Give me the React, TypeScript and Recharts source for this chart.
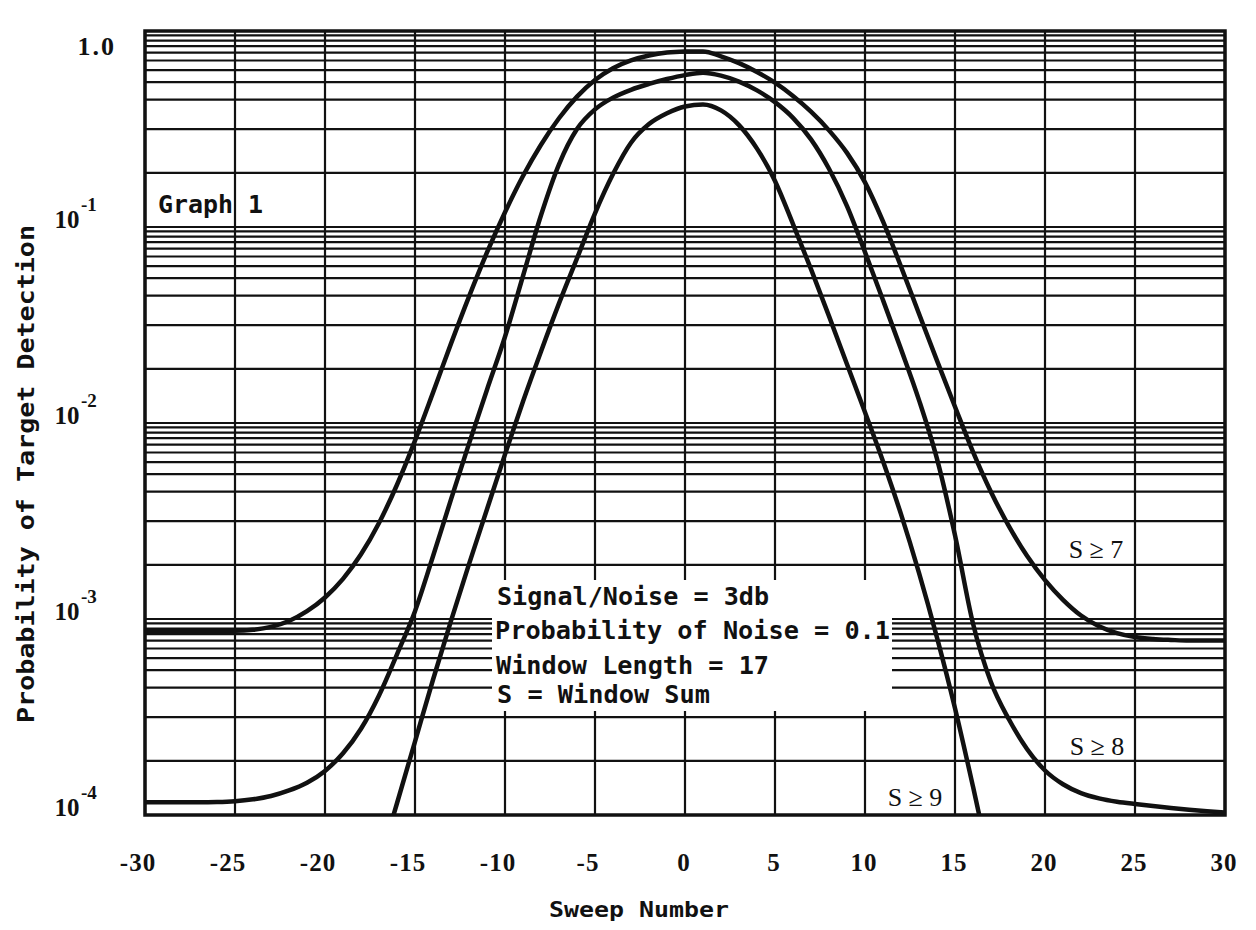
import React from "react";
import { LineChart, Line, XAxis, YAxis, CartesianGrid, Customized } from "recharts";

// ---- data ----
const sweepNumbers = [
  -30, -29, -28, -27, -26, -25, -24, -23, -22, -21, -20, -19, -18, -17, -16, -15,
  -14, -13, -12, -11, -10, -9, -8, -7, -6, -5, -4, -3, -2, -1, 0,
  1, 2, 3, 4, 5, 6, 7, 8, 9, 10, 11, 12, 13, 14, 15,
  16, 17, 18, 19, 20, 21, 22, 23, 24, 25, 26, 27, 28, 29, 30,
];

// S >= 7  (sweep -30 .. 30)
const probS7 = [
  8.71e-4, 8.71e-4, 8.71e-4, 8.71e-4, 8.71e-4, 8.71e-4, 8.81e-4, 9.12e-4, 9.77e-4, 1.096e-3,
  1.288e-3, 1.603e-3, 2.138e-3, 3.09e-3, 4.84e-3, 8.13e-3, 0.01429, 0.02541, 0.04416, 0.07413,
  0.1189, 0.182, 0.263, 0.3589, 0.4624, 0.5623, 0.6457, 0.7079, 0.7499, 0.7762,
  0.7852,
  0.787, 0.743, 0.6855, 0.618, 0.5445, 0.4656, 0.3873, 0.3112, 0.2388, 0.169,
  0.1067, 0.0628, 0.0361, 0.0208, 0.0121, 7.13e-3, 4.45e-3, 2.97e-3, 2.1e-3, 1.578e-3,
  1.253e-3, 1.042e-3, 9.18e-4, 8.47e-4, 8.09e-4, 7.91e-4, 7.82e-4, 7.76e-4, 7.76e-4, 7.76e-4,
];

// S >= 8  (sweep -30 .. 30)
const probS8 = [
  1.161e-4, 1.161e-4, 1.161e-4, 1.161e-4, 1.164e-4, 1.175e-4, 1.202e-4, 1.25e-4, 1.334e-4, 1.462e-4,
  1.679e-4, 2.065e-4, 2.754e-4, 4.074e-4, 6.607e-4, 1.096e-3, 2.089e-3, 4.074e-3, 7.852e-3, 0.01479,
  0.02754, 0.05623, 0.1148, 0.2089, 0.3162, 0.3981, 0.4571, 0.5012, 0.537, 0.5689,
  0.5957,
  0.6124, 0.5916, 0.5521, 0.4977, 0.4335, 0.3606, 0.2799, 0.1982, 0.1279, 0.07447,
  0.04236, 0.02382, 0.01309, 6.561e-3, 2.673e-3, 9.484e-4, 4.753e-4, 3.069e-4, 2.173e-4, 1.687e-4,
  1.435e-4, 1.294e-4, 1.216e-4, 1.169e-4, 1.138e-4, 1.112e-4, 1.086e-4, 1.064e-4, 1.045e-4, 1.028e-4,
];

// S >= 9  (leaves the chart below 1e-4 on both sides)
const probS9 = [
  null, null, null, null, null, null, null, null, null, null, null, null, null,
  5.62e-5, 1.148e-4, 2.371e-4, 4.898e-4, 9.772e-4, 1.905e-3, 3.631e-3, 6.918e-3, 0.01288, 0.02317,
  0.04074, 0.06918, 0.1175, 0.1862, 0.2692, 0.335, 0.3802,
  0.4121,
  0.4217, 0.3936, 0.3311, 0.2512, 0.1718, 0.1035, 0.06095, 0.03508, 0.01995, 0.01135,
  6.383e-3, 3.428e-3, 1.718e-3, 8.035e-4, 3.508e-4, 1.396e-4, 5.31e-5,
  null, null, null, null, null, null, null, null, null, null, null, null, null,
];

const xTicks = [-30, -25, -20, -15, -10, -5, 0, 5, 10, 15, 20, 25, 30];
const decades = [1, 0.1, 0.01, 0.001, 0.0001];
const decadeExponents = ["", "-1", "-2", "-3", "-4"];
// ruling of the printed paper inside each decade (relative to the decade's top line)
const paperFactors = [0.949, 0.894, 0.837, 0.775, 0.707, 0.632, 0.548, 0.447, 0.316, 0.189];

const curveLabels = ["S \u2265 7", "S \u2265 8", "S \u2265 9"];
const noteLines = [
  "Signal/Noise = 3db",
  "Probability of Noise = 0.1",
  "Window Length = 17",
  "S = Window Sum",
];

const rows = sweepNumbers.map((s, i) => ({
  sweep: s,
  s7: probS7[i],
  s8: probS8[i],
  s9: probS9[i],
}));

const gridValues = [
  ...decades,
  ...decades.slice(0, 4).flatMap((d) => paperFactors.map((f) => d * f)),
].sort((a, b) => b - a);

const MONO = "'DejaVu Sans Mono', monospace";
const SERIF = "'Liberation Serif', serif";
const INK = "#111";

const YTick = (props: any) => {
  const { y, payload } = props;
  const v = payload.value;
  const idx = decades.findIndex((d) => Math.abs(d - v) / d < 1e-6);
  if (idx < 0) return <g />;
  if (idx === 0) {
    return (
      <text x={108} y={y + 24} textAnchor="end" fontFamily={SERIF} fontWeight="bold" fontSize={26} letterSpacing={2} fill={INK}>
        1.0
      </text>
    );
  }
  return (
    <g fill={INK} fontFamily={SERIF} fontWeight="bold">
      <text x={59} y={y + 1} textAnchor="middle" fontSize={25}>10</text>
      <text x={73} y={y - 16} fontSize={19}>{decadeExponents[idx]}</text>
    </g>
  );
};

const XTick = (props: any) => {
  const { x, payload } = props;
  const v = payload.value as number;
  return (
    <text
      x={v < 0 ? x - 7 : x - 1}
      y={863}
      textAnchor="middle"
      fontFamily={SERIF}
      fontWeight="bold"
      fontSize={25}
      letterSpacing={1}
      fill={INK}
    >
      {v < 0 ? "-" + Math.abs(v) : String(v)}
    </text>
  );
};

const Annotations = () => (
  <g>
    <rect x={137} y={23} width={1080} height={784} fill="none" stroke={INK} strokeWidth={3.5} />
    <rect x={484} y={572} width={400} height={131} fill="#fff" />
    <g fontFamily={MONO} fontWeight="bold" fontSize={25} fill={INK}>
      <text x={489} y={597} textLength={272} lengthAdjust="spacingAndGlyphs">{noteLines[0]}</text>
      <text x={487} y={631} textLength={395} lengthAdjust="spacingAndGlyphs">{noteLines[1]}</text>
      <text x={488} y={666} textLength={273} lengthAdjust="spacingAndGlyphs">{noteLines[2]}</text>
      <text x={489} y={695} textLength={213} lengthAdjust="spacingAndGlyphs">{noteLines[3]}</text>
      <text x={150} y={205} textLength={105} lengthAdjust="spacingAndGlyphs">Graph 1</text>
    </g>
    <g fontFamily={SERIF} fontSize={26} fill={INK}>
      <text x={1088} y={550} textAnchor="middle">{curveLabels[0]}</text>
      <text x={1089} y={747} textAnchor="middle">{curveLabels[1]}</text>
      <text x={907} y={798} textAnchor="middle">{curveLabels[2]}</text>
    </g>
    <text
      x={631}
      y={909}
      textAnchor="middle"
      fontFamily={MONO}
      fontWeight="bold"
      fontSize={21}
      textLength={180}
      lengthAdjust="spacingAndGlyphs"
      fill={INK}
    >
      Sweep Number
    </text>
    <text
      x={18}
      y={466}
      transform="rotate(-90, 18, 466)"
      textAnchor="middle"
      dominantBaseline="central"
      fontFamily={MONO}
      fontWeight="bold"
      fontSize={23}
      textLength={498}
      lengthAdjust="spacingAndGlyphs"
      fill={INK}
    >
      Probability of Target Detection
    </text>
  </g>
);

export default function App() {
  return (
    <div style={{ width: 1240, height: 920, background: "#fff" }}>
      <LineChart width={1240} height={920} data={rows} margin={{ top: 23, right: 23, left: 0, bottom: 0 }}>
        <CartesianGrid stroke={INK} strokeWidth={2.2} />
        <XAxis
          dataKey="sweep"
          type="number"
          domain={[-30, 30]}
          ticks={xTicks}
          interval={0}
          tick={(p: any) => <XTick {...p} />}
          axisLine={false}
          tickLine={false}
          height={113}
        />
        <YAxis
          type="number"
          scale="log"
          domain={[1e-4, 1]}
          ticks={gridValues}
          interval={0}
          allowDataOverflow
          tick={(p: any) => <YTick {...p} />}
          axisLine={false}
          tickLine={false}
          width={137}
        />
        <Line dataKey="s7" type="monotone" stroke={INK} strokeWidth={4.5} dot={false} isAnimationActive={false} />
        <Line dataKey="s8" type="monotone" stroke={INK} strokeWidth={4.5} dot={false} isAnimationActive={false} />
        <Line dataKey="s9" type="monotone" stroke={INK} strokeWidth={4.5} dot={false} isAnimationActive={false} />
        <Customized component={Annotations} />
      </LineChart>
    </div>
  );
}
